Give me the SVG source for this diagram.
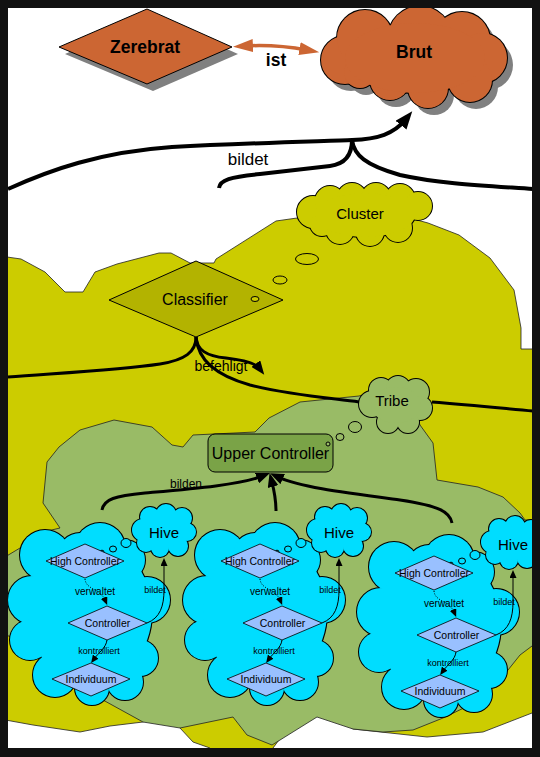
<svg xmlns="http://www.w3.org/2000/svg" width="540" height="757" viewBox="0 0 540 757">
<style>
text{font-family:"Liberation Sans",Arial,sans-serif;fill:#000;text-anchor:middle}
.b{font-weight:bold;font-size:17.5px}
.cs{stroke:#000;stroke-width:2}
.cf{stroke:none}
.or{fill:#CC6633}
.yl{fill:#CCCC00}
.gr{fill:#99BB66}
.bl{fill:#00DDFF}
.ol{stroke:#000;stroke-width:1}
.reg{stroke:#222;stroke-width:0.8}
.dm{fill:#99C0FF;stroke:#000;stroke-width:0.8}
.sh{fill:#808080}
.thick{fill:none;stroke:#000;stroke-width:4}
.med{fill:none;stroke:#000;stroke-width:3}
.thin{fill:none;stroke:#000;stroke-width:1}
.dot{fill:none;stroke:#000;stroke-width:1;stroke-dasharray:1 1.5}
.orl{fill:none;stroke:#CC6633;stroke-width:3.5}
.s9{font-size:9px}
.s10{font-size:10.5px}
.s15{font-size:15px}
.s16{font-size:16px}
</style>
<defs>
<marker id="ahBig" viewBox="0 0 10 10" refX="4" refY="5" markerWidth="18" markerHeight="14" markerUnits="userSpaceOnUse" orient="auto" preserveAspectRatio="none"><path d="M0,0 L10,5 L0,10 z" fill="#000"/></marker>
<marker id="ahMed" viewBox="0 0 10 10" refX="4" refY="5" markerWidth="14" markerHeight="11" markerUnits="userSpaceOnUse" orient="auto" preserveAspectRatio="none"><path d="M0,0 L10,5 L0,10 z" fill="#000"/></marker>
<marker id="ahSm" viewBox="0 0 10 10" refX="4" refY="5" markerWidth="8" markerHeight="7" markerUnits="userSpaceOnUse" orient="auto" preserveAspectRatio="none"><path d="M0,0 L10,5 L0,10 z" fill="#000"/></marker>
<marker id="ahOr" viewBox="0 0 10 10" refX="4" refY="5" markerWidth="20" markerHeight="13" markerUnits="userSpaceOnUse" orient="auto-start-reverse" preserveAspectRatio="none"><path d="M0,0 L10,5 L0,10 z" fill="#CC6633"/></marker>
<g id="brutShape">
<circle cx="345" cy="60" r="24"/><circle cx="365" cy="38" r="28"/><circle cx="420" cy="38" r="32"/><circle cx="462" cy="40" r="28"/><circle cx="482" cy="58" r="25"/><circle cx="470" cy="80" r="22"/><circle cx="428" cy="88" r="20"/><circle cx="390" cy="80" r="20"/><circle cx="360" cy="72" r="16"/><ellipse cx="415" cy="58" rx="70" ry="35"/>
</g>
<g id="clusterShape">
<circle cx="313" cy="212" r="16"/><circle cx="330" cy="201" r="15"/><circle cx="352" cy="198" r="15"/><circle cx="376" cy="198" r="15"/><circle cx="400" cy="199" r="15"/><circle cx="418" cy="206" r="14"/><circle cx="398" cy="228" r="14"/><circle cx="370" cy="232" r="14"/><circle cx="340" cy="230" r="14"/><circle cx="322" cy="224" r="12"/><ellipse cx="365" cy="215" rx="50" ry="22"/>
</g>
<g id="tribeShape">
<circle cx="372" cy="404" r="13"/><circle cx="381" cy="390" r="12"/><circle cx="398" cy="388" r="12"/><circle cx="416" cy="392" r="13"/><circle cx="420" cy="408" r="12"/><circle cx="408" cy="422" r="11"/><circle cx="388" cy="422" r="11"/><ellipse cx="396" cy="405" rx="25" ry="18"/>
</g>
<g id="blueShape">
<circle cx="45" cy="555" r="25"/><circle cx="80" cy="555" r="22"/><circle cx="100" cy="548" r="25"/><circle cx="125" cy="560" r="20"/><circle cx="147" cy="600" r="23"/><circle cx="140" cy="658" r="18"/><circle cx="125" cy="682" r="18"/><circle cx="92" cy="688" r="17"/><circle cx="55" cy="675" r="22"/><circle cx="30" cy="640" r="20"/><circle cx="32" cy="600" r="24"/><ellipse cx="90" cy="612" rx="62" ry="72"/>
</g>
<g id="hiveShape">
<circle cx="143" cy="530" r="11"/><circle cx="150" cy="517" r="10"/><circle cx="166" cy="514" r="10"/><circle cx="182" cy="518" r="10"/><circle cx="187" cy="532" r="9"/><circle cx="178" cy="546" r="10"/><circle cx="160" cy="548" r="9"/><circle cx="146" cy="543" r="9"/><circle cx="164" cy="531" r="17"/>
</g>
</defs>

<rect x="0" y="0" width="540" height="757" fill="#fff"/>

<g id="cluster-region">
<polygon class="yl reg" points="0,256 21,259 45,272 65,292 83,292 95,272 117,264 159,253 171,253 190,263 214,263 216,259 276,221 297,218 362,205 428,223 459,235 490,258 514,290 521,328 521,349 540,349 540,713 532,713 483,732 427,737 353,729 330,712 290,725 273,748 272,757 210,757 210,748 193,742 180,728 165,712 143,722 110,726 80,732 33,725 0,719"/>
</g>

<g id="cluster">
<use href="#clusterShape" class="yl cs"/><use href="#clusterShape" class="yl cf"/>
<text class="s15" x="360" y="219">Cluster</text>
</g>

<g id="classifier">
<polygon points="109,300 196,261 283,300 196,337" fill="#B3B300" class="ol"/>
<text class="s16" x="195" y="305">Classifier</text>
</g>
<g id="cluster-bubbles" class="yl ol">
<ellipse cx="307" cy="259" rx="11.5" ry="5.5"/>
<ellipse cx="280" cy="280" rx="7" ry="4"/>
<ellipse cx="255" cy="299" rx="4" ry="2.5"/>
</g>

<g id="tribe-region">
<polygon class="gr reg" points="47,462 59,447 80,430 114,420 152,427 172,445 183,447 193,435 255,432 269,418 300,402 359,396 380,390 410,395 420,425 433,443 437,480 478,487 503,497 520,513 525,520 540,520 540,640 520,655 500,680 470,705 443,718 413,730 383,732 353,729 317,717 272,745 247,735 233,717 180,728 143,722 103,700 20,640 0,633 0,560 25,545 43,532 60,528 43,503"/>
</g>

<g id="tribe">
<use href="#tribeShape" class="gr cs"/><use href="#tribeShape" class="gr cf"/>
<text class="s15" x="392" y="406">Tribe</text>
</g>

<g id="upper-controller">
<rect x="208" y="434" width="125" height="38" rx="7" fill="#7AA347" class="ol"/>
<text class="s16" x="270.5" y="458.5">Upper Controller</text>
</g>
<g id="tribe-bubbles" class="gr ol">
<ellipse cx="355" cy="427" rx="6.5" ry="5.5"/>
<ellipse cx="340" cy="437" rx="4" ry="3.5"/>
<ellipse cx="328" cy="444" rx="2" ry="2"/>
</g>

<g id="hive1">
<g id="hive1-cloud"><use href="#blueShape" class="bl cs"/><use href="#blueShape" class="bl cf"/></g>
<g id="hive1-hive"><use href="#hiveShape" class="bl cs"/><use href="#hiveShape" class="bl cf"/><text class="s15" x="164" y="537.5">Hive</text></g>
<g class="bl ol"><ellipse cx="126" cy="543" rx="5" ry="4.5"/><ellipse cx="113" cy="549" rx="3.5" ry="3"/><ellipse cx="102" cy="552" rx="2" ry="1.8"/></g>
<g id="hive1-high-controller"><polygon class="dm" points="46,561 85,544 124,561 85,578"/><text class="s10" x="85" y="565">High Controller</text></g>
<g id="hive1-controller"><polygon class="dm" points="68,623 107,606 147,623 107,640"/><text class="s10" x="107.5" y="627">Controller</text></g>
<g id="hive1-individuum"><polygon class="dm" points="52,679 91,663 130,679 91,696"/><text class="s10" x="91" y="683">Individuum</text></g>
</g>

<g id="hive2" transform="translate(175,0)">
<g id="hive2-cloud"><use href="#blueShape" class="bl cs"/><use href="#blueShape" class="bl cf"/></g>
<g id="hive2-hive"><use href="#hiveShape" class="bl cs"/><use href="#hiveShape" class="bl cf"/><text class="s15" x="164" y="537.5">Hive</text></g>
<g class="bl ol"><ellipse cx="126" cy="543" rx="5" ry="4.5"/><ellipse cx="113" cy="549" rx="3.5" ry="3"/><ellipse cx="102" cy="552" rx="2" ry="1.8"/></g>
<g id="hive2-high-controller"><polygon class="dm" points="46,561 85,544 124,561 85,578"/><text class="s10" x="85" y="565">High Controller</text></g>
<g id="hive2-controller"><polygon class="dm" points="68,623 107,606 147,623 107,640"/><text class="s10" x="107.5" y="627">Controller</text></g>
<g id="hive2-individuum"><polygon class="dm" points="52,679 91,663 130,679 91,696"/><text class="s10" x="91" y="683">Individuum</text></g>
</g>

<g id="hive3" transform="translate(349,12)">
<g id="hive3-cloud"><use href="#blueShape" class="bl cs"/><use href="#blueShape" class="bl cf"/></g>
<g id="hive3-hive"><use href="#hiveShape" class="bl cs"/><use href="#hiveShape" class="bl cf"/><text class="s15" x="164" y="537.5">Hive</text></g>
<g class="bl ol"><ellipse cx="126" cy="543" rx="5" ry="4.5"/><ellipse cx="113" cy="549" rx="3.5" ry="3"/><ellipse cx="102" cy="552" rx="2" ry="1.8"/></g>
<g id="hive3-high-controller"><polygon class="dm" points="46,561 85,544 124,561 85,578"/><text class="s10" x="85" y="565">High Controller</text></g>
<g id="hive3-controller"><polygon class="dm" points="68,623 107,606 147,623 107,640"/><text class="s10" x="107.5" y="627">Controller</text></g>
<g id="hive3-individuum"><polygon class="dm" points="52,679 91,663 130,679 91,696"/><text class="s10" x="91" y="683">Individuum</text></g>
</g>

<g id="zerebrat">
<polygon class="sh" points="65,54 153,16 238,54 153,91"/>
<polygon class="or ol" points="59,47 147,9 232,47 147,84"/>
<text class="b" x="145" y="53">Zerebrat</text>
</g>

<g id="brut">
<use href="#brutShape" class="sh" transform="translate(6,7)"/>
<use href="#brutShape" class="or cs"/><use href="#brutShape" class="or cf"/>
<text class="b" x="414" y="58">Brut</text>
</g>

<g id="connectors">
<path class="orl" d="M245,46 C262,45 285,46 307.4,50.1" marker-start="url(#ahOr)" marker-end="url(#ahOr)"/>
<text class="b" x="276" y="66">ist</text>

<path class="thick" d="M8,189 C50,170 100,152 172,147 C250,143 330,141 352,140 C378,139 394,134 405.5,119.6" marker-end="url(#ahBig)"/>
<path class="thick" d="M219,188 C220,180 230,177 260,174 L330,166 C345,164 352,155 352,140"/>
<path class="thick" d="M352,140 C354,155 365,165 400,175 C440,184 490,186 533,189"/>
<text x="248" y="165" style="font-size:17px">bildet</text>

<path class="med" d="M196,337 C196,352 185,360 160,364 C120,370 60,373 8,377"/>
<path class="med" d="M196,337 C197,350 206,356 226,358 C243,360 255,362.5 259.2,368.1" marker-end="url(#ahMed)"/>
<path class="med" d="M196,337 C198,360 215,375 250,385 C290,395 330,398 359,402"/>
<path class="med" d="M432,402 C470,405 500,408 533,411"/>
<text x="221" y="371" style="font-size:14px">befehligt</text>

<path class="med" d="M102,510 C104,499 115,496 145,493 C190,489 240,485 262.2,476.1" marker-end="url(#ahMed)"/>
<path class="med" d="M276,511 C276,500 274,490 271.7,481.2" marker-end="url(#ahMed)"/>
<path class="med" d="M452,523 C450,512 440,506 400,500 C340,492 300,487 277.6,476.8" marker-end="url(#ahMed)"/>
<text x="186" y="488" style="font-size:12px">bilden</text>

<g id="hive1-connectors">
<path class="dot" d="M85,579 C86,590 100,588 105.3,600.5" marker-end="url(#ahSm)"/>
<path class="thin" d="M107,640 C106,648 99,652 93.9,659.2" marker-end="url(#ahSm)"/>
<path class="thin" d="M147,623 C160,618 164,606 164,590 L164,562.8" marker-end="url(#ahSm)"/>
<text x="95" y="595" style="font-size:10px">verwaltet</text>
<text class="s9" x="99" y="654">kontrolliert</text>
<text class="s9" x="155" y="593">bildet</text>
</g>
<g id="hive2-connectors" transform="translate(175,0)">
<path class="dot" d="M85,579 C86,590 100,588 105.3,600.5" marker-end="url(#ahSm)"/>
<path class="thin" d="M107,640 C106,648 99,652 93.9,659.2" marker-end="url(#ahSm)"/>
<path class="thin" d="M147,623 C160,618 164,606 164,590 L164,562.8" marker-end="url(#ahSm)"/>
<text x="95" y="595" style="font-size:10px">verwaltet</text>
<text class="s9" x="99" y="654">kontrolliert</text>
<text class="s9" x="155" y="593">bildet</text>
</g>
<g id="hive3-connectors" transform="translate(349,12)">
<path class="dot" d="M85,579 C86,590 100,588 105.3,600.5" marker-end="url(#ahSm)"/>
<path class="thin" d="M107,640 C106,648 99,652 93.9,659.2" marker-end="url(#ahSm)"/>
<path class="thin" d="M147,623 C160,618 164,606 164,590 L164,562.8" marker-end="url(#ahSm)"/>
<text x="95" y="595" style="font-size:10px">verwaltet</text>
<text class="s9" x="99" y="654">kontrolliert</text>
<text class="s9" x="155" y="593">bildet</text>
</g>
</g>

<path id="frame" fill="#111" fill-rule="evenodd" d="M0,0H540V757H0Z M8,8H532V748H8Z"/>
</svg>
